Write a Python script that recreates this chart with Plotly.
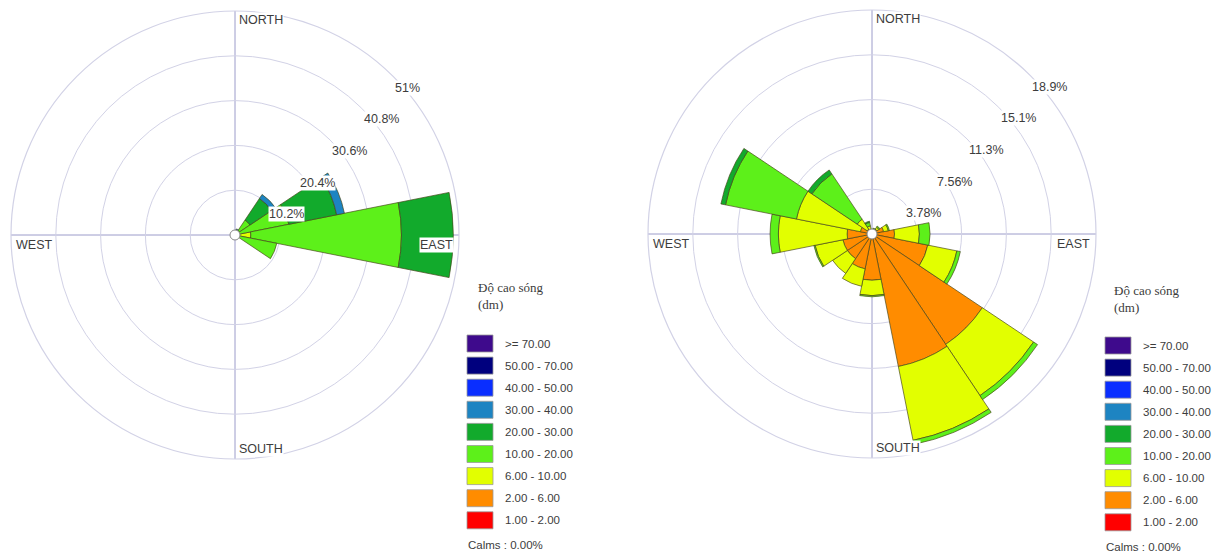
import math
import plotly.graph_objects as go

W, H = 1227, 558

# Compass directions (16 sectors, 22.5 degrees each)
directions = ["N", "NNE", "NE", "ENE", "E", "ESE", "SE", "SSE",
              "S", "SSW", "SW", "WSW", "W", "WNW", "NW", "NNW"]
bearings = [i * 22.5 for i in range(16)]

# Wave-height classes (dm), innermost first
classes = ["1.00 - 2.00", "2.00 - 6.00", "6.00 - 10.00", "10.00 - 20.00",
           "20.00 - 30.00", "30.00 - 40.00", "40.00 - 50.00",
           "50.00 - 70.00", ">= 70.00"]
class_colors = ["#ff0000", "#ff8c00", "#e2ff00", "#5df01a", "#12aa2c",
                "#1d84c2", "#0a2eff", "#00007e", "#3e0a8c"]

# Left rose: frequency (%) per direction for each class
left_1_2   = [0, 0, 0, 0, 0, 0, 0, 0, 0, 0, 0, 0, 0, 0, 0, 0]
left_2_6   = [0, 0, 0, 0, 0, 0, 0, 0, 0, 0, 0, 0, 0, 0, 0, 0]
left_6_10  = [0, 0, 0.2, 0.3, 3.6, 0.6, 0.2, 0, 0, 0, 0, 0, 0, 0, 0, 0.1]
left_10_20 = [0.2, 0.5, 3.9, 12.2, 34.3, 9.1, 0.7, 0.3, 0.1, 0, 0, 0, 0, 0, 0.1, 0.2]
left_20_30 = [0.1, 0.6, 5.9, 11.1, 11.8, 0, 0, 0, 0, 0, 0, 0, 0, 0, 0, 0]
left_30_40 = [0, 0.3, 1.1, 1.8, 0, 0, 0, 0, 0, 0, 0, 0, 0, 0, 0, 0]
left_40_50 = [0] * 16
left_50_70 = [0] * 16
left_70    = [0] * 16

# Right rose: frequency (%) per direction for each class
right_1_2   = [0] * 16
right_2_6   = [0.2, 0.2, 0.5, 1.0, 1.9, 4.8, 11.2, 11.4, 3.9, 3.0, 2.5, 2.5, 2.1, 1.0, 0.5, 0.4]
right_6_10  = [0.1, 0.1, 0.2, 0.4, 2.1, 2.5, 5.2, 6.35, 1.3, 1.5, 1.5, 2.4, 5.8, 5.5, 1.0, 0.3]
right_10_20 = [0.1, 0.1, 0.1, 0.1, 0.9, 0.3, 0.4, 0.35, 0.1, 0, 0, 0.1, 0.7, 6.1, 4.6, 0.3]
right_20_30 = [0, 0.1, 0, 0, 0, 0, 0, 0, 0, 0, 0, 0, 0, 0.4, 0.4, 0.1]
right_30_40 = [0] * 16
right_40_50 = [0] * 16
right_50_70 = [0] * 16
right_70    = [0] * 16

left_series = [left_1_2, left_2_6, left_6_10, left_10_20, left_20_30,
               left_30_40, left_40_50, left_50_70, left_70]
right_series = [right_1_2, right_2_6, right_6_10, right_10_20, right_20_30,
                right_30_40, right_40_50, right_50_70, right_70]

# Ring values and their labels
left_rings = [10.2, 20.4, 30.6, 40.8, 51.0]
left_ring_labels = ["10.2%", "20.4%", "30.6%", "40.8%", "51%"]
right_rings = [3.78, 7.56, 11.34, 15.12, 18.9]
right_ring_labels = ["3.78%", "7.56%", "11.3%", "15.1%", "18.9%"]

compass_labels = ["NORTH", "EAST", "SOUTH", "WEST"]
legend_title = "Độ cao sóng<br>(dm)"
calms_text = "Calms : 0.00%"

# Rose placement in pixels (centre x, centre y from top, radius)
R = 224
roses = [
    dict(name="polar", cx=235, cy=235, series=left_series,
         rings=left_rings, ring_labels=left_ring_labels,
         leg_x=467, leg_y=335, title_x=476, title_y=296),
    dict(name="polar2", cx=872, cy=234, series=right_series,
         rings=right_rings, ring_labels=right_ring_labels,
         leg_x=1105, leg_y=337, title_x=1112, title_y=299),
]

FONT = "Liberation Sans, Arial, sans-serif"
TXT = "#3c3c3c"


def fx(x):
    return x / W


def fy(y):
    return 1 - y / H


fig = go.Figure()
annotations = []
shapes = []
layout_polars = {}

for idx, rose in enumerate(roses):
    subplot = rose["name"]
    for cls, col, vals in zip(classes, class_colors, rose["series"]):
        fig.add_trace(go.Barpolar(
            r=vals, theta=bearings, name=cls, subplot=subplot,
            width=[22.5] * 16,
            marker=dict(color=col, line=dict(color="rgba(70,70,25,0.85)", width=0.8)),
            showlegend=False, hoverinfo="skip"))
    # calm circle at the centre
    fig.add_trace(go.Scatterpolar(
        r=[0], theta=[0], mode="markers", subplot=subplot,
        marker=dict(size=10, color="white", line=dict(color="#8a8a8a", width=1)),
        showlegend=False, hoverinfo="skip"))

    cx, cy = rose["cx"], rose["cy"]
    rmax = rose["rings"][-1]
    layout_polars[subplot] = dict(
        domain=dict(x=[fx(cx - R), fx(cx + R)], y=[fy(cy + R), fy(cy - R)]),
        bgcolor="white",
        barmode="stack",
        radialaxis=dict(range=[0, rmax], tickvals=rose["rings"], showticklabels=False,
                        ticks="", showline=False, gridcolor="#d2d2e6", gridwidth=1.2),
        angularaxis=dict(direction="clockwise", rotation=90, tickvals=[0, 90, 180, 270],
                         showticklabels=False, ticks="", showline=True,
                         linecolor="#d2d2e6", linewidth=1.2,
                         gridcolor="#9c9cca", gridwidth=1),
    )

    # ring labels along the 45-degree line
    for val, lab in zip(rose["rings"], rose["ring_labels"]):
        d = R * val / rmax
        px = cx + d * math.sin(math.radians(45))
        py = cy - d * math.cos(math.radians(45))
        annotations.append(dict(
            x=fx(px + 1), y=fy(py + 3), xref="paper", yref="paper",
            xanchor="left", yanchor="top", text=lab, showarrow=False,
            bgcolor="white", borderpad=0,
            font=dict(family=FONT, size=12.5, color=TXT)))

    # compass labels inside the outer ring
    comp_pos = [
        (cx + 3, cy - R + 9, "left"),
        (cx + R - 5, cy + 10, "right"),
        (cx + 3, cy + R - 10, "left"),
        (cx - R + 4, cy + 10, "left"),
    ]
    for lab, (px, py, anchor) in zip(compass_labels, comp_pos):
        annotations.append(dict(
            x=fx(px), y=fy(py), xref="paper", yref="paper",
            xanchor=anchor, yanchor="middle", text=lab, showarrow=False,
            bgcolor="white", borderpad=0,
            font=dict(family=FONT, size=12.5, color=TXT)))

    # legend block
    annotations.append(dict(
        x=fx(rose["title_x"]), y=fy(rose["title_y"]), xref="paper", yref="paper",
        xanchor="left", yanchor="middle", align="left", text=legend_title,
        showarrow=False,
        font=dict(family="Liberation Serif, Times New Roman, serif", size=13, color=TXT)))
    row_h = 22.1
    for k, (cls, col) in enumerate(zip(classes[::-1], class_colors[::-1])):
        top = rose["leg_y"] + k * row_h
        shapes.append(dict(
            type="rect", xref="paper", yref="paper",
            x0=fx(rose["leg_x"]), x1=fx(rose["leg_x"] + 26),
            y0=fy(top + 17), y1=fy(top),
            fillcolor=col, line=dict(color="#9a9a9a", width=0.8)))
        annotations.append(dict(
            x=fx(rose["leg_x"] + 36), y=fy(top + 8.5), xref="paper", yref="paper",
            xanchor="left", yanchor="middle", text=cls, showarrow=False,
            font=dict(family=FONT, size=11.5, color=TXT)))
    annotations.append(dict(
        x=fx(rose["leg_x"] - 1), y=fy(rose["leg_y"] + 9 * row_h + 11), xref="paper",
        yref="paper", xanchor="left", yanchor="middle", text=calms_text,
        showarrow=False, font=dict(family=FONT, size=11.5, color=TXT)))

fig.update_layout(
    width=W, height=H,
    margin=dict(l=0, r=0, t=0, b=0),
    paper_bgcolor="white",
    plot_bgcolor="white",
    showlegend=False,
    annotations=annotations,
    shapes=shapes,
    **layout_polars,
)

fig.write_html("out.html")
